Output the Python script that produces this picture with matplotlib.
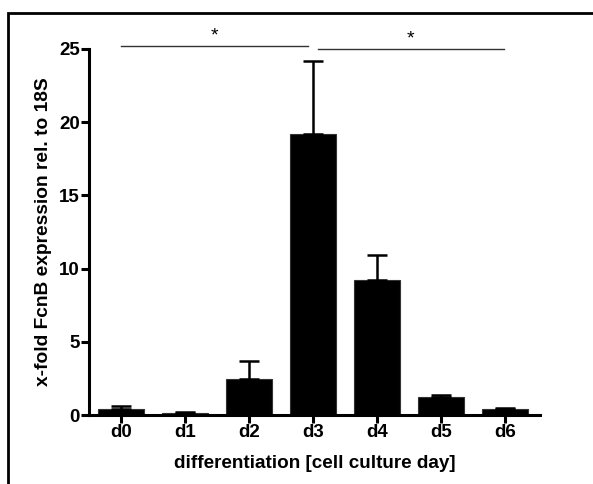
import matplotlib
matplotlib.use("Agg")
import matplotlib.pyplot as plt
from matplotlib.patches import Rectangle

categories = ["d0", "d1", "d2", "d3", "d4", "d5", "d6"]
means = [0.4, 0.16, 2.45, 19.2, 9.2, 1.2, 0.4]
errors = [0.22, 0.04, 1.25, 5.0, 1.75, 0.17, 0.1]
yticks = [0, 5, 10, 15, 20, 25]
sig_pairs = [(0, 2.92, 25.2), (3.08, 5.98, 25.0)]

plt.rcParams['font.family'] = ['Liberation Sans', 'DejaVu Sans']

fig = plt.figure(figsize=(5.93, 4.84), dpi=100)
ax = fig.add_axes([89/593, 1-415/484, (540-89)/593, (415-49)/484])

x = list(range(len(categories)))
ax.bar(x, means, width=0.72, color='black', edgecolor='#333333', linewidth=0.8, zorder=2)
ax.errorbar(x, means, yerr=[[0]*len(errors), errors], fmt='none', ecolor='black',
            elinewidth=1.8, capsize=7, capthick=1.8, zorder=3)

ax.set_xlim(-0.5, 6.55)
ax.set_ylim(0, 25)
ax.set_xticks(x)
ax.set_xticklabels(categories, fontsize=13.5, fontweight='bold')
ax.set_yticks(yticks)
ax.set_yticklabels([str(v) for v in yticks], fontsize=13.5, fontweight='bold')
for s in ['top', 'right']:
    ax.spines[s].set_visible(False)
for s in ['left', 'bottom']:
    ax.spines[s].set_linewidth(2.2)
ax.tick_params(axis='both', width=2.2, length=5.5, pad=1)
ax.set_xlabel("differentiation [cell culture day]", fontsize=13.6, fontweight='bold', labelpad=10)
ax.set_ylabel("x-fold FcnB expression rel. to 18S", fontsize=13.8, fontweight='bold', labelpad=5)

for x0, x1, yy in sig_pairs:
    ax.plot([x0, x1], [yy, yy], color='#333333', lw=1.0, clip_on=False)
    ax.text((x0 + x1) / 2, yy + 0.1, "*", ha='center', va='bottom', fontsize=14, clip_on=False)

fig.patches.append(Rectangle((8/593, -0.1), 1.2, 1 - 13/484 + 0.1, transform=fig.transFigure,
                             fill=False, edgecolor='black', linewidth=2.0))

fig.savefig("out.png", dpi=100)
